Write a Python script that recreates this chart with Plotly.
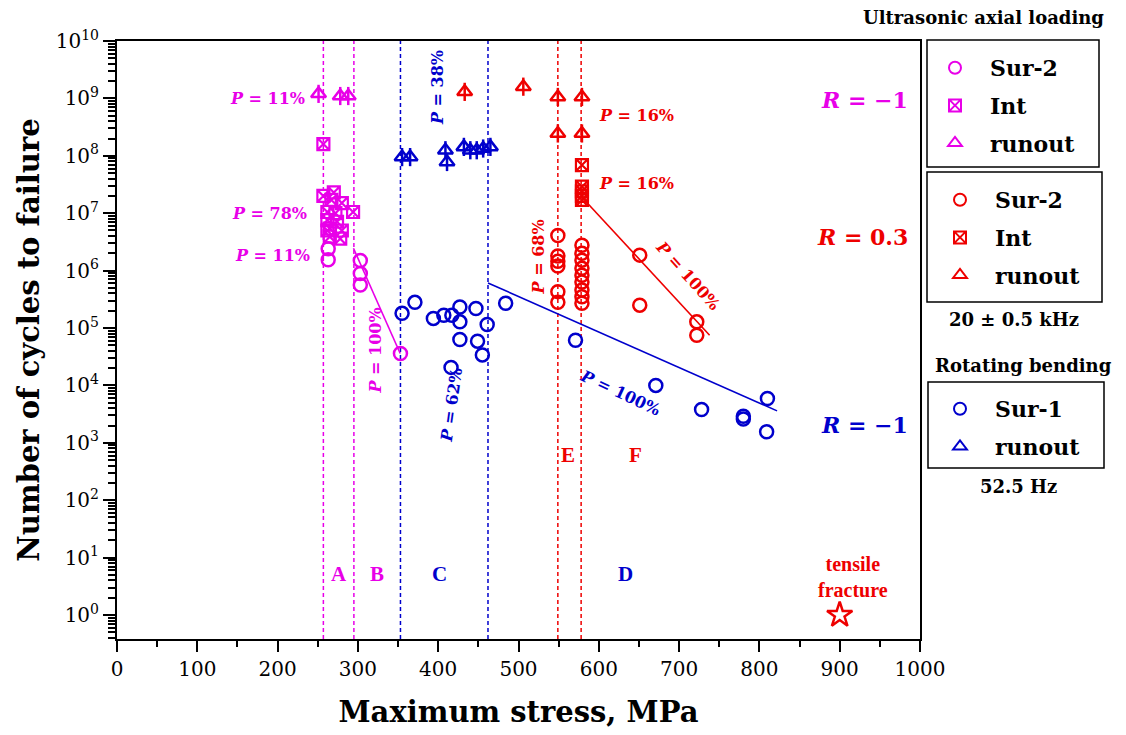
import plotly.graph_objects as go

# ---------------- data ----------------
MAG = "#e800e8"
RED = "#ee0000"
BLUE = "#0000cc"

# Ultrasonic axial loading, R = -1 (magenta)
mag_sur_x = [263, 263, 303, 303, 303, 353]
mag_sur_y = [2.4e6, 1.55e6, 1.5e6, 8.9e5, 5.6e5, 3.6e4]
mag_int_x = [257, 257, 270, 267, 280, 262, 272, 294, 262, 274, 265, 280, 265, 278, 262]
mag_int_y = [1.6e8, 2.0e7, 2.3e7, 1.7e7, 1.5e7, 1.05e7, 1.0e7, 1.05e7, 7.6e6, 7.1e6,
             5.4e6, 5.0e6, 3.9e6, 3.6e6, 5.0e6]
mag_run_x = [251, 278, 288]
mag_run_y = [1.2e9, 1.1e9, 1.1e9]
mag_fit_x = [294.5, 352.7]
mag_fit_y = [2.45e6, 3.6e4]

# Ultrasonic axial loading, R = 0.3 (red)
red_sur_x = [549, 549, 549, 549, 549, 549,
             579, 579, 579, 579, 579, 579, 579, 579, 579,
             651, 651, 722, 722]
red_sur_y = [4.1e6, 1.8e6, 1.45e6, 1.2e6, 4.3e5, 2.8e5,
             2.76e6, 2.0e6, 1.52e6, 1.1e6, 8.3e5, 6.3e5, 4.6e5, 3.5e5, 2.7e5,
             1.86e6, 2.5e5, 1.28e5, 7.5e4]
red_int_x = [579, 579, 579, 579, 579]
red_int_y = [6.9e7, 2.9e7, 2.4e7, 2.0e7, 1.7e7]
red_run_x = [433, 506, 549, 579, 549, 579]
red_run_y = [1.3e9, 1.6e9, 1.06e9, 1.06e9, 2.45e8, 2.45e8]
red_fit_x = [579, 738]
red_fit_y = [1.9e7, 7.5e4]

# Rotating bending, R = -1 (blue)
blue_sur_x = [355, 371, 394, 407, 417, 427, 427, 447, 461, 427, 449, 455, 416, 484,
              571, 671, 728, 780, 780, 810, 809]
blue_sur_y = [1.8e5, 2.8e5, 1.47e5, 1.67e5, 1.67e5, 2.33e5, 1.28e5, 2.19e5, 1.15e5,
              6.3e4, 5.9e4, 3.4e4, 2.06e4, 2.7e5, 6.1e4, 1.0e4, 3.8e3, 2.9e3, 2.6e3,
              5.9e3, 1.56e3]
blue_run_x = [355, 365, 409, 411, 432, 440, 448, 456, 465]
blue_run_y = [9.5e7, 9.5e7, 1.25e8, 7.8e7, 1.43e8, 1.25e8, 1.25e8, 1.34e8, 1.43e8]
blue_fit_x = [462, 822]
blue_fit_y = [6.1e5, 3.6e3]

# tensile fracture
tens_x = [900]
tens_y = [1]

# region boundaries (MPa)
bound_x = [257, 295, 353, 462, 549, 578]
bound_c = [MAG, MAG, BLUE, BLUE, RED, RED]

y_tick_exp = list(range(0, 11))
x_ticks = list(range(0, 1001, 100))

SERIF = "DejaVu Serif"
TIMES = "Liberation Serif"

# ---------------- figure ----------------
fig = go.Figure()


def add_group(sx, sy, ix, iy, rx, ry, color, legend, sur_name):
    fig.add_trace(go.Scatter(x=sx, y=sy, mode="markers", name=sur_name, legend=legend,
                             legendgroup=legend + "a",
                             marker=dict(symbol="circle-open", size=13, color=color,
                                         line=dict(width=2.5, color=color))))
    if ix is not None:
        fig.add_trace(go.Scatter(x=ix, y=iy, mode="markers", name="Int", legend=legend,
                                 legendgroup=legend + "b",
                                 marker=dict(symbol="square-x-open", size=12, color=color,
                                             line=dict(width=2.2, color=color))))
    fig.add_trace(go.Scatter(x=rx, y=ry, mode="markers", name="runout", legend=legend,
                             legendgroup=legend + "c",
                             marker=dict(symbol="triangle-up-open", size=13, color=color,
                                         line=dict(width=2.5, color=color))))
    fig.add_trace(go.Scatter(x=rx, y=ry, mode="markers", showlegend=False,
                             legend=legend, legendgroup=legend + "c", hoverinfo="skip",
                             marker=dict(symbol="line-ns-open", size=13, color=color,
                                         line=dict(width=2.5, color=color))))


add_group(mag_sur_x, mag_sur_y, mag_int_x, mag_int_y, mag_run_x, mag_run_y, MAG, "legend", "Sur-2")
add_group(red_sur_x, red_sur_y, red_int_x, red_int_y, red_run_x, red_run_y, RED, "legend2", "Sur-2")
add_group(blue_sur_x, blue_sur_y, None, None, blue_run_x, blue_run_y, BLUE, "legend3", "Sur-1")

for fx, fy, c in [(mag_fit_x, mag_fit_y, MAG), (red_fit_x, red_fit_y, RED), (blue_fit_x, blue_fit_y, BLUE)]:
    fig.add_trace(go.Scatter(x=fx, y=fy, mode="lines", showlegend=False, hoverinfo="skip",
                             line=dict(color=c, width=1.6)))

fig.add_trace(go.Scatter(x=tens_x, y=tens_y, mode="markers", showlegend=False,
                         marker=dict(symbol="star-open", size=19, color=RED,
                                     line=dict(width=2.5, color=RED))))

shapes = []
for bx, bc in zip(bound_x, bound_c):
    shapes.append(dict(type="line", xref="x", yref="paper", x0=bx, x1=bx, y0=0, y1=1,
                       line=dict(color=bc, width=1.5, dash="4px,3px"), layer="below"))

# legend frames (pixel -> paper)
L, R_, T, B = 117, 920, 41, 639
PW, PH = R_ - L, B - T


def px(xp):
    return (xp - L) / PW


def py(yp):
    return (B - yp) / PH


for (x0, y0, x1, y1) in [(927, 40, 1099, 167), (927, 172, 1102, 302), (928, 382, 1104, 468)]:
    shapes.append(dict(type="rect", xref="paper", yref="paper", x0=px(x0), x1=px(x1),
                       y0=py(y1), y1=py(y0), line=dict(color="black", width=1.5)))


def ann(text, x, ylog, color, size=16, angle=0, family=SERIF, bold=True):
    t = "<b>" + text + "</b>" if bold else text
    return dict(text=t, x=x, y=ylog, xref="x", yref="y", showarrow=False, textangle=angle,
                font=dict(family=family, size=size, color=color), xanchor="center", yanchor="middle")


P = "<i>P</i> = "
annotations = [
    ann(P + "11%", 188, 9.0, MAG),
    ann(P + "78%", 190.5, 7.0, MAG),
    ann(P + "11%", 194, 6.27, MAG),
    ann(P + "100%", 322, 4.6, MAG, angle=-90),
    ann("A", 276, 0.71, MAG, size=21, family=TIMES),
    ann("B", 324, 0.71, MAG, size=21, family=TIMES),
    ann("<i>R</i> = −1", 931, 8.97, MAG, size=22),
    ann(P + "38%", 398.5, 9.18, BLUE, angle=-90),
    ann(P + "62%", 417, 3.66, BLUE, angle=-82),
    ann(P + "100%", 626, 3.87, BLUE, angle=25),
    ann("C", 402, 0.71, BLUE, size=21, family=TIMES),
    ann("D", 633, 0.71, BLUE, size=21, family=TIMES),
    ann("<i>R</i> = −1", 931, 3.31, BLUE, size=22),
    ann(P + "16%", 647, 8.71, RED),
    ann(P + "16%", 647, 7.52, RED),
    ann(P + "68%", 525, 6.24, RED, angle=-90),
    ann(P + "100%", 711, 5.92, RED, angle=48),
    ann("E", 562, 2.79, RED, size=21, family=TIMES),
    ann("F", 646, 2.79, RED, size=21, family=TIMES),
    ann("<i>R</i> = 0.3", 929, 6.59, RED, size=22),
    ann("tensile<br>fracture", 917, 0.66, RED, size=20, family=TIMES),
]


def pann(text, xp, yp, size=18):
    return dict(text="<b>" + text + "</b>", x=px(xp), y=py(yp), xref="paper", yref="paper",
                showarrow=False, xanchor="center", yanchor="middle",
                font=dict(family=SERIF, size=size, color="black"))


annotations += [
    pann("Ultrasonic axial loading", 983, 18),
    pann("20 ± 0.5 kHz", 1014, 319),
    pann("Rotating bending", 1023, 365),
    pann("52.5 Hz", 1018, 486),
]

leg_common = dict(bgcolor="rgba(0,0,0,0)", borderwidth=0, xanchor="left", yanchor="top",
                  font=dict(family=SERIF, size=22, color="black", weight="bold"),
                  itemsizing="constant", itemwidth=60, traceorder="grouped", tracegroupgap=6)

minor_vals = []
for e in range(-1, 10):
    for m in range(2, 10):
        v = m * 10 ** e
        if 10 ** -0.42 <= v <= 1e10:
            minor_vals.append(v)

fig.update_layout(
    width=1126, height=735,
    margin=dict(l=L, r=1126 - R_, t=T, b=735 - B),
    paper_bgcolor="white", plot_bgcolor="white",
    showlegend=True,
    legend=dict(x=px(920), y=py(47), **leg_common),
    legend2=dict(x=px(925), y=py(179), **leg_common),
    legend3=dict(x=px(925), y=py(388), **leg_common),
    shapes=shapes,
    annotations=annotations,
    xaxis=dict(range=[0, 1000], tickvals=x_ticks, ticktext=[str(v) for v in x_ticks],
               showgrid=False, zeroline=False, showline=True, linecolor="black", linewidth=2,
               mirror=True, ticks="outside", ticklen=11, tickwidth=2, tickcolor="black",
               minor=dict(dtick=50, ticks="outside", ticklen=6, tickwidth=2, tickcolor="black",
                          showgrid=False),
               tickfont=dict(family=SERIF, size=20, color="black"),
               title=dict(text="<b>Maximum stress, MPa</b>", standoff=22,
                          font=dict(family=SERIF, size=29, color="black"))),
    yaxis=dict(type="log", range=[-0.418, 10],
               tickvals=[10 ** e for e in y_tick_exp],
               ticktext=["10<sup>%d</sup>" % e for e in y_tick_exp],
               showgrid=False, zeroline=False, showline=True, linecolor="black", linewidth=2,
               mirror=True, ticks="outside", ticklen=12, tickwidth=2, tickcolor="black",
               minor=dict(tickvals=minor_vals, ticks="outside", ticklen=7, tickwidth=1.5,
                          tickcolor="black", showgrid=False),
               tickfont=dict(family=SERIF, size=20, color="black"),
               title=dict(text="<b>Number of cycles to failure</b>", standoff=8,
                          font=dict(family=SERIF, size=29, color="black"))),
)

fig.write_html("out.html")
